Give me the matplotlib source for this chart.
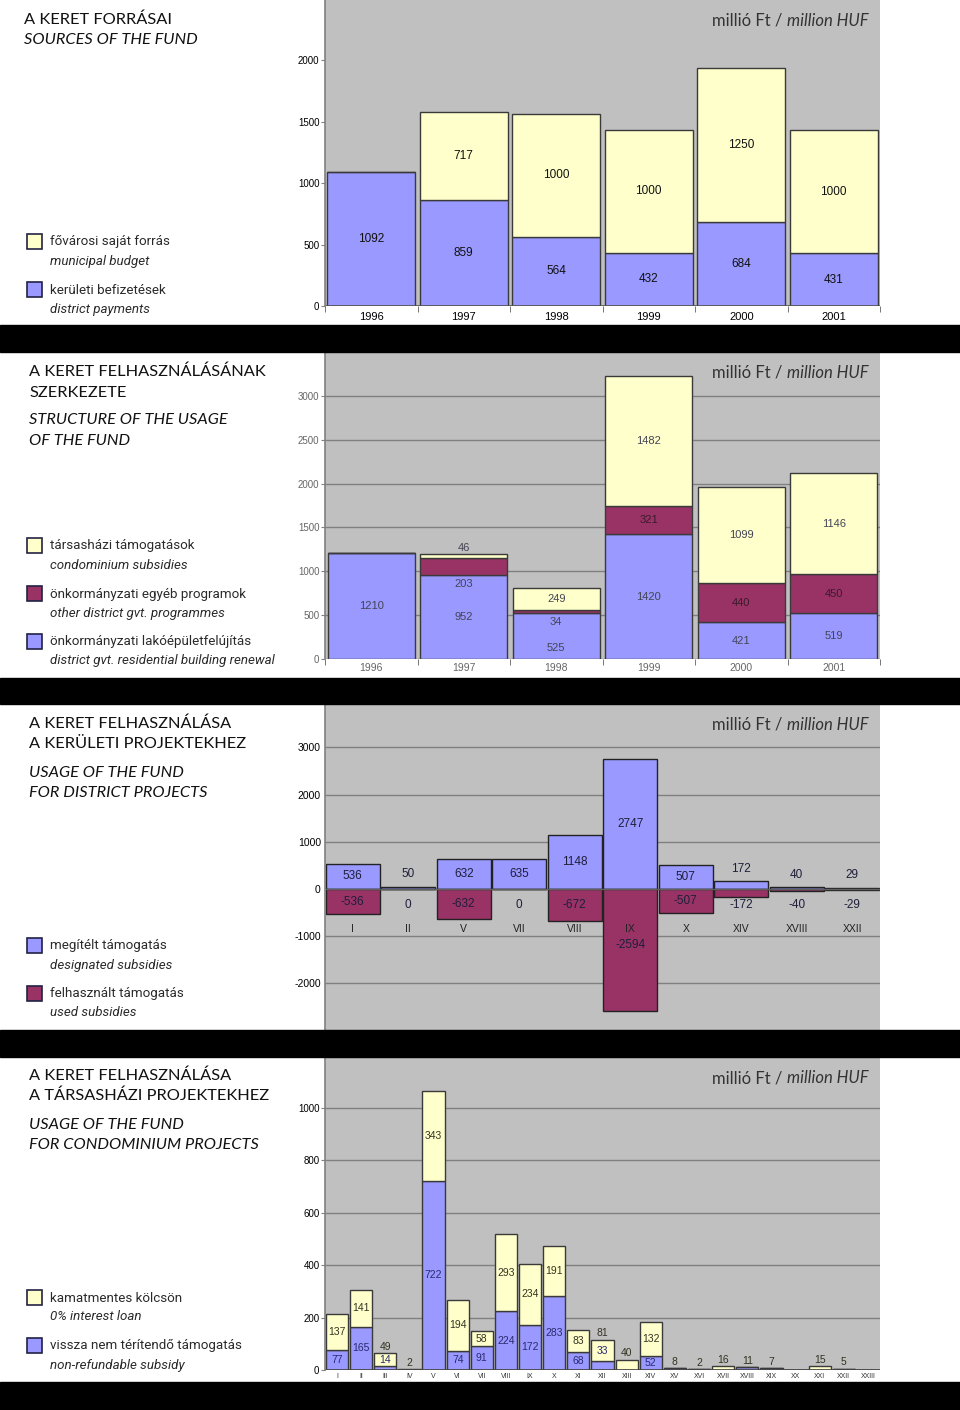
import numpy as np
import matplotlib
matplotlib.use("Agg")
import matplotlib.pyplot as plt
from matplotlib.patches import Rectangle
from matplotlib import font_manager

W, H = 960, 1410

# fonts
def pick(names):
    have = {f.name for f in font_manager.fontManager.ttflist}
    return [n for n in names if n in have] + ["DejaVu Sans"]

HEAD = pick(["Lato", "Noto Sans"])
COND = pick(["Liberation Sans Narrow", "Roboto", "Lato"])
NUM = pick(["Liberation Sans", "Arial"])
plt.rcParams["font.family"] = NUM
plt.rcParams["axes.unicode_minus"] = False

# colours
YELLOW = "#ffffcc"
BLUE = "#9999ff"
WINE = "#993366"
GRAY = "#c0c0c0"
EDGE = "#3a3a3a"

# --- panel 1: sources of the fund
years = ["1996", "1997", "1998", "1999", "2000", "2001"]
src_district = [1092, 859, 564, 432, 684, 431]
src_municipal = [0, 717, 1000, 1000, 1250, 1000]

# --- panel 2: structure of usage
use_renewal = [1210, 952, 525, 1420, 421, 519]
use_other = [0, 203, 34, 321, 440, 450]
use_condo = [0, 46, 249, 1482, 1099, 1146]

# --- panel 3: district projects
district_names = ["I", "II", "V", "VII", "VIII", "IX", "X", "XIV", "XVIII", "XXII"]
designated = [536, 50, 632, 635, 1148, 2747, 507, 172, 40, 29]
used = [-536, 0, -632, 0, -672, -2594, -507, -172, -40, -29]

# --- panel 4: condominium projects
condo_districts = ["I", "II", "III", "IV", "V", "VI", "VII", "VIII", "IX", "X", "XI", "XII",
                   "XIII", "XIV", "XV", "XVI", "XVII", "XVIII", "XIX", "XX", "XXI", "XXII", "XXIII"]
grant = [77, 165, 14, 0, 722, 74, 91, 224, 172, 283, 68, 33, 0, 52, 8, 2, 0, 11, 7, 0, 0, 5, 0]
loan = [137, 141, 49, 2, 343, 194, 58, 293, 234, 191, 83, 81, 40, 132, 0, 0, 16, 0, 0, 0, 15, 0, 0]


fig = plt.figure(figsize=(W / 100, H / 100), dpi=100)
fig.patch.set_facecolor("white")


def px_axes(x0, y0, x1, y1):
    return fig.add_axes([x0 / W, 1 - y1 / H, (x1 - x0) / W, (y1 - y0) / H])


def ftext(x, y, s, **kw):
    return fig.text(x / W, 1 - y / H, s, **kw)


def band(y0, y1):
    fig.add_artist(Rectangle((0, 1 - y1 / H), 1, (y1 - y0) / H, transform=fig.transFigure,
                             color="black", zorder=10))


def title(x, ys, lines):
    for y, (s, it) in zip(ys, lines):
        ftext(x, y, s, family=HEAD, fontsize=11.8, style="italic" if it else "normal",
              va="center", ha="left", color="#111111")


def legend(items):
    for yc, col, hu, en in items:
        fig.add_artist(Rectangle((27 / W, 1 - (yc + 7.5) / H), 15 / W, 15 / H,
                                 transform=fig.transFigure, facecolor=col,
                                 edgecolor="#222244", lw=1.2))
        ftext(50, yc + 1, hu, family=COND, fontsize=9.6, va="center", color="#2a2a2a")
        ftext(50, yc + 20, en, family=COND, fontsize=9.6, style="italic",
              va="center", color="#2a2a2a")


def unit_label(y):
    t1 = ftext(712, y, "millió Ft / ", family=HEAD, fontsize=12, va="baseline",
               color="#333333")
    ax0 = fig.axes[-1]
    ax0.annotate("million HUF", xy=(1, 0), xycoords=t1, xytext=(1, 0), textcoords=t1,
                 va="bottom", ha="left", family=HEAD, fontsize=12, style="italic",
                 color="#333333", annotation_clip=False)


def style_axes(ax, grid):
    ax.set_facecolor(GRAY)
    for s in ["top", "right", "bottom"]:
        ax.spines[s].set_visible(False)
    ax.spines["left"].set_color("#808080")
    ax.spines["left"].set_linewidth(1.2)
    if grid:
        ax.grid(axis="y", color="#808080", lw=1.0)
        ax.set_axisbelow(True)
    ax.tick_params(axis="y", length=3, color="#808080", labelsize=7, pad=1)
    ax.tick_params(axis="x", which="major", length=0)


def boundary_ticks(ax, n):
    ax.set_xticks(np.arange(-0.5, n), minor=True)
    ax.tick_params(axis="x", which="minor", length=4, color="#606060")


band(325, 352)
band(678, 704)
band(1030, 1057)
band(1382, 1410)

# ================= panel 1 =================
title(24, [20, 40], [("A KERET FORRÁSAI", False), ("SOURCES OF THE FUND", True)])
legend([(241, YELLOW, "fővárosi saját forrás", "municipal budget"),
        (289, BLUE, "kerületi befizetések", "district payments")])

ax1 = px_axes(325, 0, 880, 306)
style_axes(ax1, False)
x = np.arange(len(years))
ax1.bar(x, src_district, width=0.95, color=BLUE, edgecolor=EDGE, lw=1)
ax1.bar(x, src_municipal, bottom=src_district, width=0.95, color=YELLOW, edgecolor=EDGE, lw=1)
for i in range(len(years)):
    ax1.text(x[i], src_district[i] / 2, str(src_district[i]), ha="center", va="center",
             fontsize=8.5, color="#111111")
    if src_municipal[i]:
        ax1.text(x[i], src_district[i] + src_municipal[i] / 2, str(src_municipal[i]),
                 ha="center", va="center", fontsize=8.5, color="#111111")
ax1.set_xlim(-0.5, len(years) - 0.5)
ax1.set_ylim(0, 2490)
ax1.set_yticks([0, 500, 1000, 1500, 2000])
ax1.set_xticks(x)
ax1.set_xticklabels(years, fontsize=8)
ax1.tick_params(axis="x", which="major", pad=4)
boundary_ticks(ax1, len(years))
ax1.axhline(0, color="#555555", lw=1.2)
unit_label(26)

# ================= panel 2 =================
title(29, [372, 393, 420, 441], [("A KERET FELHASZNÁLÁSÁNAK", False), ("SZERKEZETE", False),
                                 ("STRUCTURE OF THE USAGE", True), ("OF THE FUND", True)])
legend([(545, YELLOW, "társasházi támogatások", "condominium subsidies"),
        (593, WINE, "önkormányzati egyéb programok", "other district gvt. programmes"),
        (641, BLUE, "önkormányzati lakóépületfelújítás", "district gvt. residential building renewal")])

ax2 = px_axes(325, 352, 880, 659)
style_axes(ax2, True)
x = np.arange(len(years))
b2 = np.array(use_renewal) + np.array(use_other)
ax2.bar(x, use_renewal, width=0.94, color=BLUE, edgecolor=EDGE, lw=1)
ax2.bar(x, use_other, bottom=use_renewal, width=0.94, color=WINE, edgecolor=EDGE, lw=1)
ax2.bar(x, use_condo, bottom=b2, width=0.94, color=YELLOW, edgecolor=EDGE, lw=1)
lab = dict(ha="center", va="center", fontsize=8, color="#444455")
labw = dict(ha="center", va="center", fontsize=8, color="#3a1a2a")
for i in range(len(years)):
    r, o, c = use_renewal[i], use_other[i], use_condo[i]
    if 0 < o < 250:
        ax2.text(x[i], r - 100, str(o), **lab)
        ax2.text(x[i], r / 2 if r > 700 else r * 0.24, str(r), **lab)
    else:
        ax2.text(x[i], r / 2, str(r), **lab)
        if o:
            ax2.text(x[i], r + o / 2, str(o), **labw)
    if c >= 150:
        ax2.text(x[i], r + o + c / 2, str(c), **lab)
    elif c:
        ax2.text(x[i], r + o + c + 64, str(c), **lab)
ax2.set_xlim(-0.5, len(years) - 0.5)
ax2.set_ylim(0, 3500)
ax2.set_yticks([0, 500, 1000, 1500, 2000, 2500, 3000])
ax2.tick_params(axis="y", labelcolor="#666666")
ax2.set_xticks(x)
ax2.set_xticklabels(years, fontsize=7.5, color="#666666")
ax2.tick_params(axis="x", which="major", pad=3)
boundary_ticks(ax2, len(years))
unit_label(378)

# ================= panel 3 =================
title(29, [724, 744, 773, 793], [("A KERET FELHASZNÁLÁSA", False), ("A KERÜLETI PROJEKTEKHEZ", False),
                                 ("USAGE OF THE FUND", True), ("FOR DISTRICT PROJECTS", True)])
legend([(945, BLUE, "megítélt támogatás", "designated subsidies"),
        (993, WINE, "felhasznált támogatás", "used subsidies")])

ax3 = px_axes(325, 704, 880, 1030)
style_axes(ax3, True)
x = np.arange(len(district_names))
ax3.bar(x, designated, width=0.97, color=BLUE, edgecolor="#222222", lw=1)
ax3.bar(x, used, width=0.97, color=WINE, edgecolor="#222222", lw=1)
ax3.axhline(0, color="#606060", lw=1)
lab3 = dict(ha="center", va="center", fontsize=8.5, color="#1e1e3a")
for i in range(len(district_names)):
    d, u = designated[i], used[i]
    ax3.text(x[i], d / 2 if d > 400 else d + 260, str(d), **lab3)
    if abs(u) > 2000:
        yu = -1190
    elif abs(u) > 400:
        yu = u / 2
    else:
        yu = -340
    ax3.text(x[i], yu, str(u), **lab3)
    ax3.text(x[i], -850, district_names[i], ha="center", va="center", fontsize=7.5,
             color="#222222")
ax3.set_xlim(-0.5, len(district_names) - 0.5)
ax3.set_ylim(-2987, 3919)
ax3.set_yticks([-2000, -1000, 0, 1000, 2000, 3000])
ax3.set_xticks([])
ax3.tick_params(axis="y", length=0, pad=3, labelsize=7.5)
unit_label(730)

# ================= panel 4 =================
title(29, [1076, 1096, 1125, 1145], [("A KERET FELHASZNÁLÁSA", False), ("A TÁRSASHÁZI PROJEKTEKHEZ", False),
                                     ("USAGE OF THE FUND", True), ("FOR CONDOMINIUM PROJECTS", True)])
legend([(1297, YELLOW, "kamatmentes kölcsön", "0% interest loan"),
        (1345, BLUE, "vissza nem térítendő támogatás", "non-refundable subsidy")])

ax4 = px_axes(325, 1057, 880, 1370)
style_axes(ax4, True)
x = np.arange(len(condo_districts))
ax4.bar(x, grant, width=0.92, color=BLUE, edgecolor=EDGE, lw=1)
ax4.bar(x, loan, bottom=grant, width=0.92, color=YELLOW, edgecolor=EDGE, lw=1)
lab4b = dict(ha="center", va="center", fontsize=7.5, color="#2a2a70")
lab4y = dict(ha="center", va="center", fontsize=7.5, color="#333322")
for i in range(len(condo_districts)):
    b, l = grant[i], loan[i]
    top = b + l
    if b >= 45:
        ax4.text(x[i], b / 2, str(b), **lab4b)
        if l >= 45:
            ax4.text(x[i], b + l / 2, str(l), **lab4y)
        elif l:
            ax4.text(x[i], top + 26, str(l), **lab4y)
    elif b and l >= 45:
        ax4.text(x[i], b + l / 2, str(b), **lab4b)
        ax4.text(x[i], top + 26, str(l), **lab4y)
    elif top:
        ax4.text(x[i], top + 24, str(top), **lab4y)
ax4.set_xlim(-0.5, len(condo_districts) - 0.5)
ax4.set_ylim(0, 1194)
ax4.set_yticks([0, 200, 400, 600, 800, 1000])
ax4.set_xticks(x)
ax4.set_xticklabels(condo_districts, fontsize=5, color="#333333")
ax4.tick_params(axis="x", which="major", pad=2)
ax4.axhline(0, color="#444444", lw=1.2)
unit_label(1083)

fig.savefig("out.png", dpi=100)
